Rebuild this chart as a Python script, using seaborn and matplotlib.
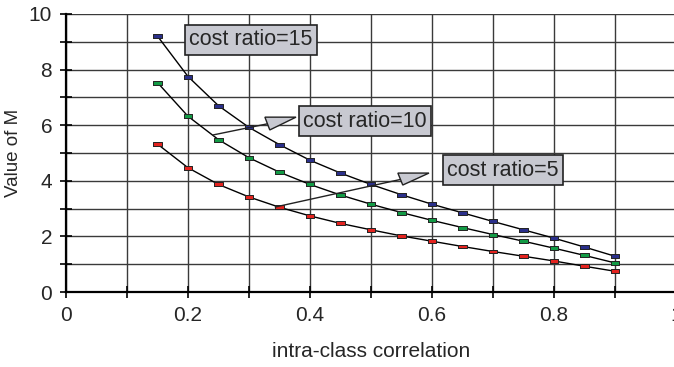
import numpy as np
import pandas as pd
import matplotlib
matplotlib.use("Agg")
import matplotlib.pyplot as plt
from matplotlib.ticker import MultipleLocator
import seaborn as sns

# values
rho = [0.15, 0.2, 0.25, 0.3, 0.35, 0.4, 0.45, 0.5, 0.55, 0.6, 0.65, 0.7, 0.75, 0.8, 0.85, 0.9]
m_ratio15 = [9.2, 7.75, 6.7, 5.92, 5.3, 4.74, 4.28, 3.87, 3.5, 3.16, 2.85, 2.54, 2.24, 1.94, 1.62, 1.29]
m_ratio10 = [7.53, 6.32, 5.48, 4.83, 4.31, 3.87, 3.49, 3.16, 2.86, 2.58, 2.32, 2.07, 1.83, 1.58, 1.32, 1.05]
m_ratio5 = [5.32, 4.47, 3.87, 3.42, 3.05, 2.74, 2.47, 2.24, 2.02, 1.83, 1.64, 1.46, 1.29, 1.12, 0.93, 0.75]
series_names = ["cost ratio=15", "cost ratio=10", "cost ratio=5"]
series_colors = ["#2a2f8a", "#129a45", "#e3231f"]

df = pd.concat([
    pd.DataFrame({"rho": rho, "M": vals, "series": name})
    for name, vals in zip(series_names, [m_ratio15, m_ratio10, m_ratio5])
])

sns.set_style("white")
plt.rcParams["font.family"] = ["Liberation Sans", "DejaVu Sans"]

fig = plt.figure(figsize=(6.74, 3.67), dpi=100)
ax = fig.add_axes([0.098, 0.204, 0.905, 0.758])

# grid
ax.set_xlim(0, 1)
ax.set_ylim(0, 10)
ax.xaxis.set_major_locator(MultipleLocator(0.2))
ax.xaxis.set_minor_locator(MultipleLocator(0.1))
ax.yaxis.set_major_locator(MultipleLocator(2))
ax.yaxis.set_minor_locator(MultipleLocator(1))
ax.grid(which="both", color="#3a3a3a", linewidth=1.0, zorder=0)
ax.set_axisbelow(True)

# black connecting lines, coloured rectangular markers
sns.lineplot(data=df, x="rho", y="M", hue="series", palette=["black"] * 3,
             linewidth=1.0, legend=False, ax=ax, zorder=2)
rect = [(-1, -0.45), (1, -0.45), (1, 0.45), (-1, 0.45), (-1, -0.45)]
sns.scatterplot(data=df, x="rho", y="M", hue="series", palette=series_colors,
                marker=rect, s=40, edgecolor="#222222", linewidth=0.7,
                legend=False, ax=ax, zorder=3)

# callouts
box = dict(boxstyle="square,pad=0.2", facecolor="#c8c9d1", edgecolor="#222222", linewidth=1.2)
ax.text(0.303, 9.07, "cost ratio=15", fontsize=15.5, ha="center", va="center", bbox=box, zorder=5)
ax.text(0.49, 6.15, "cost ratio=10", fontsize=15.5, ha="center", va="center", bbox=box, zorder=5)
ax.text(0.716, 4.39, "cost ratio=5", fontsize=15.5, ha="center", va="center", bbox=box, zorder=5)

ax.plot([0.241, 0.33], [5.65, 6.05], color="#222222", linewidth=1.0, zorder=4)
ax.fill([0.326, 0.377, 0.334], [6.29, 6.29, 5.83], facecolor="#c8c9d1",
        edgecolor="#222222", linewidth=1.0, zorder=4)
ax.plot([0.343, 0.548], [3.06, 4.05], color="#222222", linewidth=1.0, zorder=4)
ax.fill([0.544, 0.595, 0.552], [4.28, 4.28, 3.85], facecolor="#c8c9d1",
        edgecolor="#222222", linewidth=1.0, zorder=4)

# axes styling
for side in ["top", "right"]:
    ax.spines[side].set_visible(False)
for side in ["left", "bottom"]:
    ax.spines[side].set_color("black")
    ax.spines[side].set_linewidth(1.6)
ax.tick_params(which="both", direction="inout", length=8, width=1.2, color="black",
               left=True, bottom=True)
ax.tick_params(which="major", labelsize=15, pad=6)
ax.set_xticks([0, 0.2, 0.4, 0.6, 0.8, 1.0])
ax.set_xticklabels(["0", "0.2", "0.4", "0.6", "0.8", "1"])
ax.set_yticks([0, 2, 4, 6, 8, 10])
ax.set_xlabel("intra-class correlation", fontsize=15, labelpad=12)
ax.set_ylabel("Value of M", fontsize=13.5, labelpad=5)

fig.savefig("out.png", dpi=100)
